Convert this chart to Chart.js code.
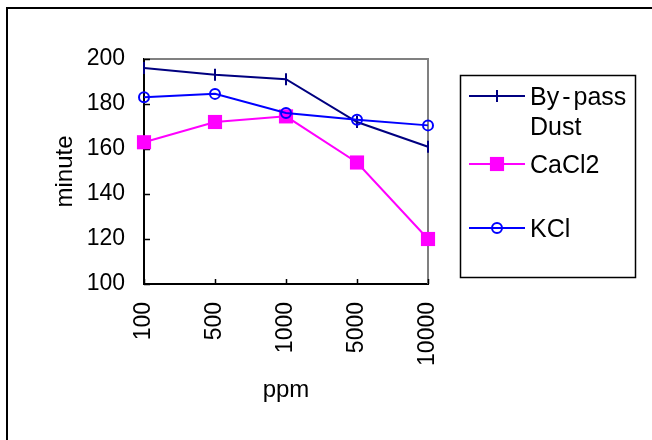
<!DOCTYPE html>
<html>
<head>
<meta charset="utf-8">
<script src="https://cdn.jsdelivr.net/npm/chart.js@4/dist/chart.umd.min.js"></script>
<style>
    html, body { margin: 0; padding: 0; background: #fff; }
    #wrap { position: relative; width: 652px; height: 440px; }
</style>
</head>
<body>
<div id="wrap"><canvas id="chart" width="652" height="440"></canvas></div>
<script>
const categories = ["100", "500", "1000", "5000", "10000"];
const bypassDust = [196, 193, 191, 172, 161];
const cacl2 = [163, 172, 174.5, 154, 120];
const kcl = [183, 184.5, 176, 173, 170.5];
const yTicks = [100, 120, 140, 160, 180, 200];
const legendText = [["By-pass", "Dust"], ["CaCl2"], ["KCl"]];

const FONT = "'Liberation Sans', Arial, sans-serif";

// outer frame (top + left edges only, the rest is cut off) and plot border
const framePlugin = {
    id: "frame",
    beforeDraw(chart) {
        const ctx = chart.ctx;
        ctx.save();
        ctx.fillStyle = "#fff";
        ctx.fillRect(0, 0, chart.width, chart.height);
        ctx.strokeStyle = "#000";
        ctx.lineWidth = 2;
        ctx.beginPath();
        ctx.moveTo(7, 440);
        ctx.lineTo(7, 8);
        ctx.lineTo(652, 8);
        ctx.stroke();
        ctx.restore();
    },
    beforeDatasetsDraw(chart) {
        const { ctx, chartArea: a, scales } = chart;
        ctx.save();
        ctx.strokeStyle = "#808080";
        ctx.lineWidth = 2;
        ctx.beginPath();
        ctx.moveTo(a.left, a.top);
        ctx.lineTo(a.right, a.top);
        ctx.lineTo(a.right, a.bottom);
        ctx.stroke();

        // inward tick marks
        ctx.strokeStyle = "#000";
        ctx.lineWidth = 1.5;
        ctx.beginPath();
        yTicks.forEach(v => {
            const y = Math.round(scales.y.getPixelForValue(v)) + 0.5;
            ctx.moveTo(a.left, y);
            ctx.lineTo(a.left + 6, y);
        });
        categories.forEach((c, i) => {
            const x = Math.round(scales.x.getPixelForValue(i)) + 0.5;
            ctx.moveTo(x, a.bottom);
            ctx.lineTo(x, a.bottom - 5);
        });
        ctx.stroke();
        ctx.restore();
    }
};

function drawMarker(ctx, ds, x, y) {
    ctx.save();
    ctx.strokeStyle = ds.borderColor;
    ctx.fillStyle = ds.pointBackgroundColor;
    ctx.lineWidth = ds.pointBorderWidth;
    ctx.beginPath();
    if (ds.pointStyle === "rect") {
        const s = Math.SQRT1_2 * ds.pointRadius;
        ctx.rect(x - s, y - s, 2 * s, 2 * s);
        ctx.fill();
    } else if (ds.pointStyle === "circle") {
        ctx.arc(x, y, ds.pointRadius, 0, Math.PI * 2);
        ctx.stroke();
    } else {
        ctx.moveTo(x, y - ds.pointRadius);
        ctx.lineTo(x, y + ds.pointRadius);
        ctx.stroke();
    }
    ctx.restore();
}

// text with a little air around a hyphen, like the original legend
function drawSpaced(ctx, text, x, y) {
    const parts = text.split("-");
    parts.forEach((p, k) => {
        ctx.fillText(p, x, y);
        x += ctx.measureText(p).width;
        if (k < parts.length - 1) {
            x += 3;
            ctx.fillText("-", x, y);
            x += ctx.measureText("-").width + 3;
        }
    });
}

const legendPlugin = {
    id: "boxLegend",
    afterDraw(chart) {
        const ctx = chart.ctx;
        const rows = [96, 164, 228];
        ctx.save();
        ctx.strokeStyle = "#000";
        ctx.lineWidth = 1.5;
        ctx.strokeRect(460.5, 75.5, 175, 202);
        ctx.font = "25px " + FONT;
        ctx.fillStyle = "#000";
        ctx.textBaseline = "middle";
        chart.data.datasets.forEach((ds, i) => {
            const y = rows[i];
            ctx.strokeStyle = ds.borderColor;
            ctx.lineWidth = 2;
            ctx.beginPath();
            ctx.moveTo(469, y);
            ctx.lineTo(525, y);
            ctx.stroke();
            drawMarker(ctx, ds, 497, y);
            legendText[i].forEach((t, k) => {
                drawSpaced(ctx, t, 530, y + 2 + k * 30);
            });
        });
        ctx.restore();
    }
};

new Chart(document.getElementById("chart"), {
    type: "line",
    data: {
        labels: categories,
        datasets: [{
            label: "By-pass Dust",
            data: bypassDust,
            borderColor: "#000080",
            pointBackgroundColor: "#000080",
            borderWidth: 2,
            pointStyle: "line",
            pointRotation: 90,
            pointRadius: 6,
            pointBorderWidth: 2,
            order: 1
        }, {
            label: "CaCl2",
            data: cacl2,
            borderColor: "#ff00ff",
            pointBackgroundColor: "#ff00ff",
            borderWidth: 2,
            pointStyle: "rect",
            pointRadius: 10,
            pointBorderWidth: 0,
            order: 2
        }, {
            label: "KCl",
            data: kcl,
            borderColor: "#0000ff",
            pointBackgroundColor: "rgba(0,0,0,0)",
            borderWidth: 2,
            pointStyle: "circle",
            pointRadius: 5,
            pointBorderWidth: 2,
            order: 0
        }]
    },
    options: {
        responsive: false,
        animation: false,
        layout: {
            padding: { left: 0, top: 59, right: 224, bottom: 0 }
        },
        plugins: {
            legend: { display: false },
            tooltip: { enabled: false }
        },
        scales: {
            x: {
                offset: false,
                grid: { display: false, drawTicks: false },
                border: { display: true, color: "#000", width: 2 },
                ticks: {
                    color: "#000",
                    font: { family: FONT, size: 23 },
                    minRotation: 90,
                    maxRotation: 90,
                    padding: 18,
                    autoSkip: false
                },
                title: {
                    display: true,
                    text: "ppm",
                    color: "#000",
                    font: { family: FONT, size: 24 },
                    padding: { top: 0, bottom: 35 }
                },
                afterFit(scale) {
                    scale.height = 156;
                }
            },
            y: {
                min: 100,
                max: 200,
                grid: { display: false, drawTicks: false },
                border: { display: true, color: "#000", width: 2 },
                ticks: {
                    stepSize: 20,
                    color: "#000",
                    font: { family: FONT, size: 23 },
                    padding: 19
                },
                title: {
                    display: true,
                    text: "minute",
                    color: "#000",
                    font: { family: FONT, size: 24 },
                    padding: { top: 51, bottom: 0 }
                },
                afterFit(scale) {
                    scale.width = 144;
                }
            }
        }
    },
    plugins: [framePlugin, legendPlugin]
});
</script>
</body>
</html>
